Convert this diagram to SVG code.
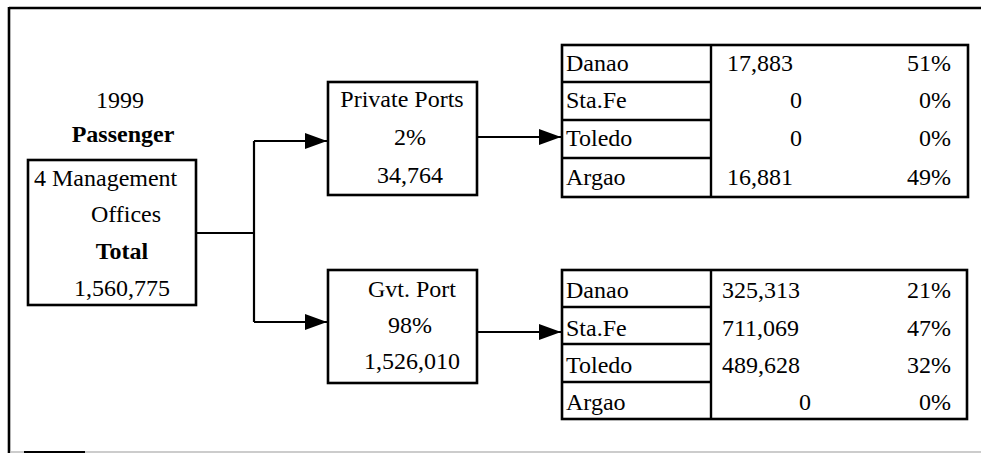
<svg xmlns="http://www.w3.org/2000/svg" width="981" height="454" viewBox="0 0 981 454" font-family="'Liberation Serif', 'DejaVu Serif', serif">
<defs>
<style>
text{font-family:"Liberation Serif","Times New Roman",serif;font-size:24px;fill:#000}
.b{font-weight:bold}
.m{text-anchor:middle}
.r{text-anchor:end}
.box{fill:#fff;stroke:#000;stroke-width:2.6}
.ln{fill:none;stroke:#000;stroke-width:2.4}
.con{fill:none;stroke:#000;stroke-width:2.2}
</style>
<marker id="ah" markerWidth="22" markerHeight="16" refX="22" refY="8" orient="auto" markerUnits="userSpaceOnUse">
<path d="M0,0 L22,8 L0,16 Z" fill="#000"/>
</marker>
</defs>
<rect width="981" height="454" fill="#fff"/>
<g id="frame">
<line x1="9" y1="8" x2="981" y2="8" stroke="#000" stroke-width="2.4"/>
<line x1="9" y1="7" x2="9" y2="453" stroke="#000" stroke-width="2.6"/>
<line x1="10" y1="452" x2="981" y2="452" stroke="#bbb" stroke-width="1.5"/>
<line x1="24" y1="452" x2="85" y2="452" stroke="#000" stroke-width="1.8"/>
</g>
<g id="title">
<text class="m" x="120" y="108">1999</text>
<text class="m b" x="123" y="142">Passenger</text>
</g>
<g id="total">
<rect class="box" x="28" y="160" width="168" height="145"/>
<text x="34" y="186">4 Management</text>
<text class="m" x="126" y="222">Offices</text>
<text class="m b" x="122" y="259">Total</text>
<text class="m" x="122" y="296">1,560,775</text>
</g>
<g id="connectors">
<polyline class="con" points="197,233 254,233"/>
<polyline class="con" points="254,141 254,322"/>
<line class="con" x1="254" y1="141" x2="327" y2="141" marker-end="url(#ah)"/>
<line class="con" x1="254" y1="322" x2="327" y2="322" marker-end="url(#ah)"/>
<line class="con" x1="477" y1="137" x2="561" y2="137" marker-end="url(#ah)"/>
<line class="con" x1="477" y1="332" x2="561" y2="332" marker-end="url(#ah)"/>
</g>
<g id="private">
<rect class="box" x="328" y="82" width="149" height="113"/>
<text class="m" x="402" y="107">Private Ports</text>
<text class="m" x="410" y="145">2%</text>
<text class="m" x="410" y="183">34,764</text>
</g>
<g id="gvt">
<rect class="box" x="328" y="270" width="149" height="113"/>
<text class="m" x="412" y="297">Gvt. Port</text>
<text class="m" x="410" y="333">98%</text>
<text class="m" x="412" y="369">1,526,010</text>
</g>
<g id="private-table">
<rect class="box" x="562" y="45" width="406" height="152"/>
<line class="ln" x1="711" y1="45" x2="711" y2="197"/>
<line class="ln" x1="562" y1="82" x2="711" y2="82"/>
<line class="ln" x1="562" y1="120" x2="711" y2="120"/>
<line class="ln" x1="562" y1="158" x2="711" y2="158"/>
<text x="566" y="71">Danao</text>
<text x="566" y="108">Sta.Fe</text>
<text x="566" y="146">Toledo</text>
<text x="566" y="185">Argao</text>
<text x="727" y="71">17,883</text>
<text class="r" x="802" y="108">0</text>
<text class="r" x="802" y="146">0</text>
<text x="727" y="185">16,881</text>
<text class="r" x="951" y="71">51%</text>
<text class="r" x="951" y="108">0%</text>
<text class="r" x="951" y="146">0%</text>
<text class="r" x="951" y="185">49%</text>
</g>
<g id="gvt-table">
<rect class="box" x="562" y="270" width="405" height="149"/>
<line class="ln" x1="711" y1="270" x2="711" y2="419"/>
<line class="ln" x1="562" y1="307" x2="711" y2="307"/>
<line class="ln" x1="562" y1="344" x2="711" y2="344"/>
<line class="ln" x1="562" y1="382" x2="711" y2="382"/>
<text x="566" y="298">Danao</text>
<text x="566" y="336">Sta.Fe</text>
<text x="566" y="373">Toledo</text>
<text x="566" y="410">Argao</text>
<text x="722" y="298">325,313</text>
<text x="722" y="336">711,069</text>
<text x="722" y="373">489,628</text>
<text class="r" x="811" y="410">0</text>
<text class="r" x="951" y="298">21%</text>
<text class="r" x="951" y="336">47%</text>
<text class="r" x="951" y="373">32%</text>
<text class="r" x="951" y="410">0%</text>
</g>
</svg>
